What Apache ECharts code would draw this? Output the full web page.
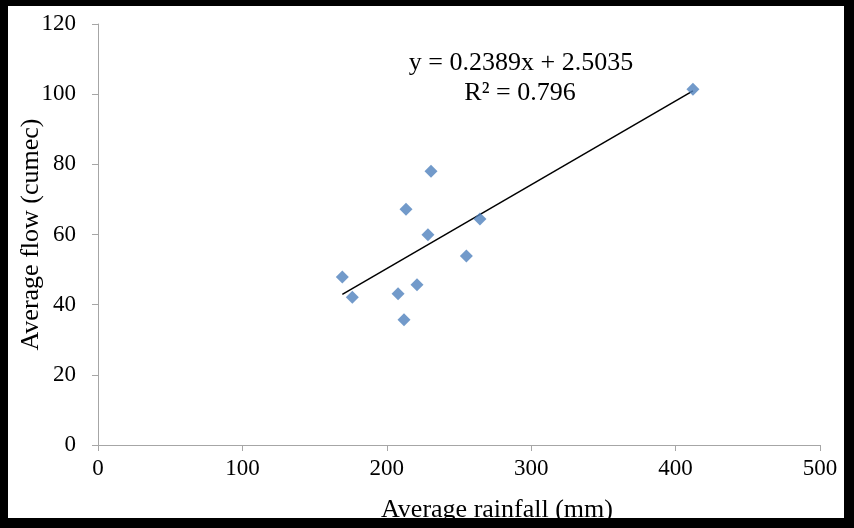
<!DOCTYPE html>
<html>
<head>
<meta charset="utf-8">
<script src="https://cdn.jsdelivr.net/npm/echarts@6/dist/echarts.min.js"></script>
<style>
  html, body { margin: 0; padding: 0; background: #fff; }
  #chart { position: absolute; left: 0; top: 0; width: 854px; height: 528px; }
  #frame { position: absolute; left: 0; top: 0; width: 854px; height: 528px; box-sizing: border-box;
           border-style: solid; border-color: #000; border-width: 6px 10px 10px 8px; pointer-events: none; }
</style>
</head>
<body>
<div id="chart"></div>
<div id="frame"></div>
<script>
  // 读图得到的数据
  var rainfall = [169.2, 176.1, 207.8, 211.9, 213.3, 220.9, 228.5, 230.6, 255.1, 264.5, 412.0];
  var flow = [47.9, 42.1, 43.1, 35.7, 67.2, 45.7, 59.9, 78.0, 53.9, 64.4, 101.4];
  // 趋势线 y = 0.2389x + 2.5035
  var slope = 0.2389;
  var intercept = 2.5035;
  var eqText = 'y = 0.2389x + 2.5035';
  var r2Text = 'R² = 0.796';

  var points = rainfall.map(function (x, i) { return [x, flow[i]]; });
  var xMin = Math.min.apply(null, rainfall);
  var xMax = Math.max.apply(null, rainfall);
  var trend = [[xMin, slope * xMin + intercept], [xMax, slope * xMax + intercept]];

  var font = 'Liberation Serif';
  var chart = echarts.init(document.getElementById('chart'));
  chart.setOption({
    animation: false,
    grid: { left: 98, right: 34, top: 24, bottom: 83, outerBoundsMode: 'none' },
    xAxis: {
      type: 'value', min: 0, max: 500, interval: 100,
      name: 'Average rainfall (mm)', nameLocation: 'middle', nameGap: 52,
      nameTextStyle: { fontFamily: font, fontSize: 26, color: '#000', padding: [0, 0, 0, 76] },
      axisLine: { lineStyle: { color: '#a6a6a6', width: 1 } },
      axisTick: { length: 6, lineStyle: { color: '#a6a6a6' } },
      axisLabel: { fontFamily: font, fontSize: 23, color: '#000', margin: 12 },
      splitLine: { show: false }
    },
    yAxis: {
      type: 'value', min: 0, max: 120, interval: 20,
      name: 'Average flow (cumec)', nameLocation: 'middle', nameGap: 54, nameMoveOverlap: false,
      nameTextStyle: { fontFamily: font, fontSize: 26, color: '#000' },
      axisLine: { show: true, lineStyle: { color: '#a6a6a6', width: 1 } },
      axisTick: { show: true, length: 6, lineStyle: { color: '#a6a6a6' } },
      axisLabel: { fontFamily: font, fontSize: 23, color: '#000', margin: 22 },
      splitLine: { show: false }
    },
    series: [
      {
        type: 'scatter', data: points, symbol: 'diamond', symbolSize: 13,
        itemStyle: { color: '#4f81bd' }, z: 3
      },
      {
        type: 'line', data: trend, symbol: 'none',
        lineStyle: { color: '#000', width: 1.5 }, z: 2
      }
    ],
    graphic: [
      { type: 'text', x: 521, y: 63, style: { text: eqText, font: '26px "Liberation Serif"', fill: '#000', align: 'center', verticalAlign: 'middle' } },
      { type: 'text', x: 520, y: 93, style: { text: r2Text, font: '26px "Liberation Serif"', fill: '#000', align: 'center', verticalAlign: 'middle' } }
    ]
  });
</script>
</body>
</html>
